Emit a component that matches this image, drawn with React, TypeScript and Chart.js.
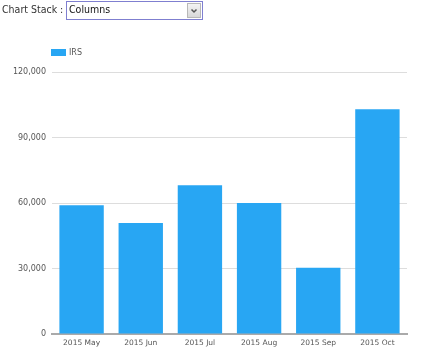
import React, { useEffect, useRef } from "react";
import { Chart, registerables } from "chart.js";

Chart.register(...registerables);

const categories = ["2015 May", "2015 Jun", "2015 Jul", "2015 Aug", "2015 Sep", "2015 Oct"];
const irsValues = [59000, 50800, 68100, 60000, 30400, 102900];
const seriesName = "IRS";
const yMax = 120000;
const yStep = 30000;

const FONT = "'DejaVu Sans', Verdana, sans-serif";
const HEAD_FONT = "'DejaVu Sans Condensed', 'DejaVu Sans', sans-serif";
const BAR_COLOR = "#28a6f3";

export default function App() {
  const canvasRef = useRef<HTMLCanvasElement | null>(null);

  useEffect(() => {
    document.body.style.margin = "0";
    const ctx = canvasRef.current;
    if (!ctx) return;
    const chart = new Chart(ctx, {
      type: "bar",
      data: {
        labels: categories,
        datasets: [
          {
            label: seriesName,
            data: irsValues,
            backgroundColor: BAR_COLOR,
            borderWidth: 0,
            barPercentage: 0.75,
            categoryPercentage: 1,
          },
        ],
      },
      options: {
        animation: false,
        responsive: false,
        maintainAspectRatio: false,
        layout: { padding: { top: 72, right: 18, left: 0, bottom: -1 } },
        plugins: {
          legend: { display: false },
          tooltip: { enabled: false },
        },
        scales: {
          x: {
            grid: { display: false, drawTicks: false },
            border: { display: true, color: "#aaaaaa", width: 2 },
            ticks: {
              color: "#555555",
              font: { family: FONT, size: 7.5 },
              padding: 5,
              maxRotation: 0,
            },
          },
          y: {
            min: 0,
            max: yMax,
            afterFit: (scale: any) => {
              scale.width = 52;
            },
            grid: { color: "#dddddd", lineWidth: 1, drawTicks: false },
            border: { display: false },
            ticks: {
              stepSize: yStep,
              color: "#555555",
              font: { family: FONT, size: 8 },
              padding: 6,
              callback: (v: any) => Number(v).toLocaleString("en-US"),
            },
          },
        },
      },
    });
    return () => chart.destroy();
  }, []);

  return (
    <div style={{ position: "relative", width: 425, height: 352, background: "#fff", fontFamily: FONT, overflow: "hidden" }}>
      <canvas ref={canvasRef} width={425} height={352} style={{ position: "absolute", left: 0, top: 0 }} />
      <div style={{ position: "absolute", left: 2, top: 3, fontSize: 10.5, color: "#333", whiteSpace: "nowrap", fontFamily: HEAD_FONT }}>
        Chart Stack :
      </div>
      <div
        style={{
          position: "absolute",
          left: 66,
          top: 1,
          width: 135,
          height: 17,
          border: "1px solid #7f7fd0",
          background: "#fff",
        }}
      >
        <span style={{ position: "absolute", left: 2, top: 1, fontSize: 10.5, color: "#111", fontFamily: HEAD_FONT }}>Columns</span>
        <div
          style={{
            position: "absolute",
            right: 1,
            top: 1,
            width: 14,
            height: 15,
            background: "linear-gradient(#f4f4f4, #d8d8d8)",
            border: "1px solid #b8b8b8",
            boxSizing: "border-box",
          }}
        >
          <svg width="12" height="13" style={{ position: "absolute", left: 0, top: 0 }}>
            <polyline points="3.5,5.5 6,8 8.5,5.5" fill="none" stroke="#555" strokeWidth="1.5" />
          </svg>
        </div>
      </div>
      <div style={{ position: "absolute", left: 51, top: 48, display: "flex", alignItems: "center" }}>
        <span style={{ display: "inline-block", width: 15, height: 7, background: BAR_COLOR }} />
        <span style={{ fontSize: 8, color: "#555", marginLeft: 3 }}>{seriesName}</span>
      </div>
    </div>
  );
}
